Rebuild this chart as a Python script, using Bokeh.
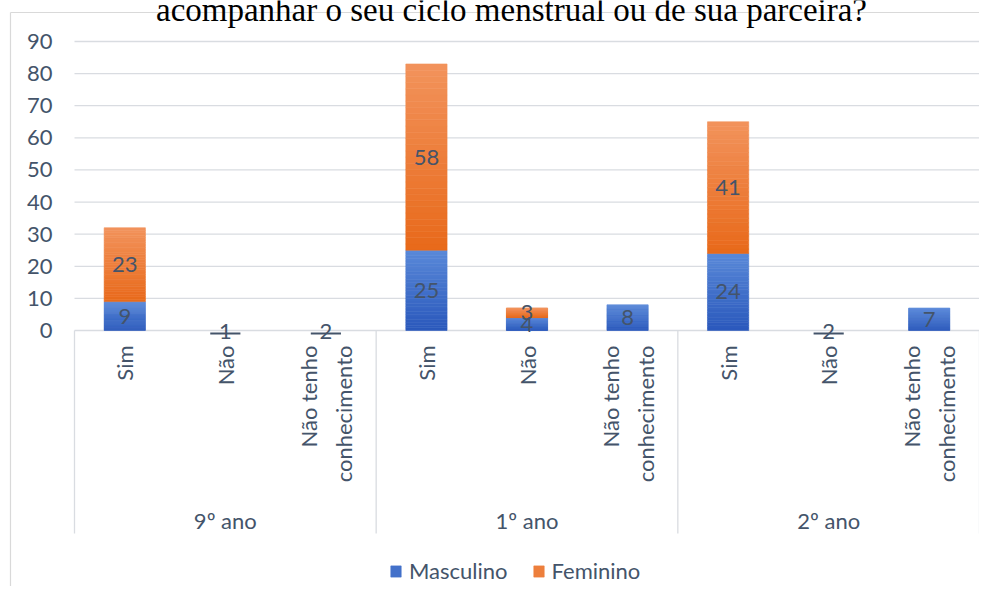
import numpy as np
from bokeh.plotting import figure
from bokeh.models import ColumnDataSource, Range1d, Legend, LegendItem
from bokeh.core.properties import value
from bokeh.embed import file_html
from bokeh.resources import INLINE

# ---------------- data ----------------
title_text = "acompanhar o seu ciclo menstrual ou de sua parceira?"
groups = ["9º ano", "1º ano", "2º ano"]
answers = ["Sim", "Não", "Não tenho\nconhecimento"]
series = ["Masculino", "Feminino"]
masculino = [9, 0, 0, 25, 4, 8, 24, 0, 7]
feminino = [23, 0, 0, 58, 3, 0, 41, 0, 0]
# counts typed as text in the sheet: labelled, but drawn with zero height
text_counts = ["", "1", "2", "", "", "", "", "2", ""]
y_ticks = [0, 10, 20, 30, 40, 50, 60, 70, 80, 90]

# ---------------- style ----------------
FONT = "Lato"
TXT = "#44546A"
GRID = "#D9DCE1"
BLUE_TOP, BLUE_BOT = "#5A89D8", "#2A58BC"
ORG_TOP, ORG_BOT = "#F2935C", "#E8691A"

W, H = 979, 586
ZERO = 330              # canvas y of value 0
LEFT = 74               # canvas x of plot-area left edge
PX = 905 / 9.0          # pixels per category
PY = 289 / 90.0         # pixels per unit
x0 = -0.5 - LEFT / PX
x1 = x0 + W / PX
y_top = ZERO / PY
y_bot = -(H - ZERO) / PY

def sx(px):   # canvas px -> data x
    return x0 + px / PX

def sy(py):   # canvas px -> data y
    return (ZERO - py) / PY

p = figure(width=W, height=H, x_range=Range1d(x0, x1), y_range=Range1d(y_bot, y_top),
           x_axis_type=None, y_axis_type=None, output_backend="svg",
           toolbar_location=None, min_border=0)
p.outline_line_color = None
p.grid.visible = False
p.background_fill_color = "white"
p.border_fill_color = "white"

# chart border
p.segment(x0=[sx(10), sx(10)], y0=[sy(12), sy(12)], x1=[x1, sx(10)], y1=[sy(12), y_bot],
          line_color="#D9D9D9", line_width=1.2)

# title (partly cut at top, as in the source image)
p.text(x=[sx(511)], y=[sy(9)], text=[title_text], text_font=value("Liberation Serif"),
       text_font_size="33px", text_color="black", text_align="center",
       text_baseline="alphabetic")

# grid lines and axis line
n_cat = len(masculino)
p.segment(x0=[-0.5] * len(y_ticks), x1=[n_cat - 0.5] * len(y_ticks), y0=y_ticks, y1=y_ticks,
          line_color=GRID, line_width=1.3)

# y tick labels
p.text(x=[sx(52)] * len(y_ticks), y=y_ticks, text=[str(t) for t in y_ticks],
       text_font=value(FONT), text_font_size="22px", text_color=TXT,
       text_align="right", text_baseline="middle")

# gradient bars
def hex2rgb(h):
    h = h.lstrip("#")
    return np.array([int(h[i:i + 2], 16) for i in (0, 2, 4)], dtype=float)

def rgb2hex(c):
    return "#%02x%02x%02x" % tuple(int(round(v)) for v in c)

NS = 30
BW = 0.41

def gradient_source(bottoms, tops, ctop, cbot):
    ct, cb = hex2rgb(ctop), hex2rgb(cbot)
    L, R, B, T, C = [], [], [], [], []
    for i, (b, t) in enumerate(zip(bottoms, tops)):
        if t - b <= 0:
            continue
        for k in range(NS):
            f = (k + 0.5) / NS  # 0 bottom -> 1 top
            L.append(i - BW / 2)
            R.append(i + BW / 2)
            B.append(b + (t - b) * k / NS)
            T.append(b + (t - b) * (k + 1) / NS)
            C.append(rgb2hex(cb + (ct - cb) * f))
    return ColumnDataSource(dict(left=L, right=R, bottom=B, top=T, color=C))

m_bottom = [0] * n_cat
m_top = list(masculino)
f_bottom = list(masculino)
f_top = [m + f for m, f in zip(masculino, feminino)]

src_m = gradient_source(m_bottom, m_top, BLUE_TOP, BLUE_BOT)
src_f = gradient_source(f_bottom, f_top, ORG_TOP, ORG_BOT)
rm = p.quad(left="left", right="right", bottom="bottom", top="top", source=src_m,
            fill_color="color", line_color="color", line_width=0.6)
rf = p.quad(left="left", right="right", bottom="bottom", top="top", source=src_f,
            fill_color="color", line_color="color", line_width=0.6)

# data labels
lx, ly, lt = [], [], []
for i in range(n_cat):
    if masculino[i] > 0:
        lx.append(i); ly.append(masculino[i] / 2); lt.append(str(masculino[i]))
    if feminino[i] > 0:
        lx.append(i); ly.append(masculino[i] + feminino[i] / 2); lt.append(str(feminino[i]))
p.text(x=lx, y=ly, text=lt, text_font=value(FONT), text_font_size="22px",
       text_color=TXT, text_align="center", text_baseline="middle")

# text-valued counts at zero, with their short dash
tx = [i for i in range(n_cat) if text_counts[i]]
tt = [text_counts[i] for i in tx]
p.text(x=tx, y=[sy(331)] * len(tx), text=tt, text_font=value(FONT), text_font_size="22px",
       text_color=TXT, text_align="center", text_baseline="middle")
p.segment(x0=[i - 0.15 for i in tx], x1=[i + 0.15 for i in tx],
          y0=[sy(333)] * len(tx), y1=[sy(333)] * len(tx), line_color=TXT, line_width=2)

# category labels (rotated)
cat_labels = [a for g in groups for a in answers]
p.text(x=list(range(n_cat)), y=[sy(345)] * n_cat, text=cat_labels, angle=np.pi / 2,
       text_font=value(FONT), text_font_size="22px", text_color=TXT,
       text_align="right", text_baseline="middle", text_line_height=1.3)

# group separators and labels
ng = len(groups)
seps = [g * len(answers) - 0.5 for g in range(ng + 1)]
p.segment(x0=seps, x1=seps, y0=[0] * len(seps), y1=[sy(533)] * len(seps),
          line_color=GRID, line_width=1.3)
p.text(x=[g * len(answers) + 1 for g in range(ng)], y=[sy(520)] * ng, text=groups,
       text_font=value(FONT), text_font_size="22px", text_color=TXT,
       text_align="center", text_baseline="middle")

# legend
legend = Legend(items=[LegendItem(label=series[0], renderers=[rm], index=NS // 2),
                       LegendItem(label=series[1], renderers=[rf], index=NS // 2)],
                orientation="horizontal", location=(389, 2),
                label_text_font=FONT, label_text_font_size="22px", label_text_color=TXT,
                glyph_width=13, glyph_height=14, label_standoff=7, spacing=24,
                padding=0, margin=0, border_line_color=None, background_fill_alpha=0)
p.add_layout(legend)

open("out.html", "w").write(file_html(p, INLINE))
